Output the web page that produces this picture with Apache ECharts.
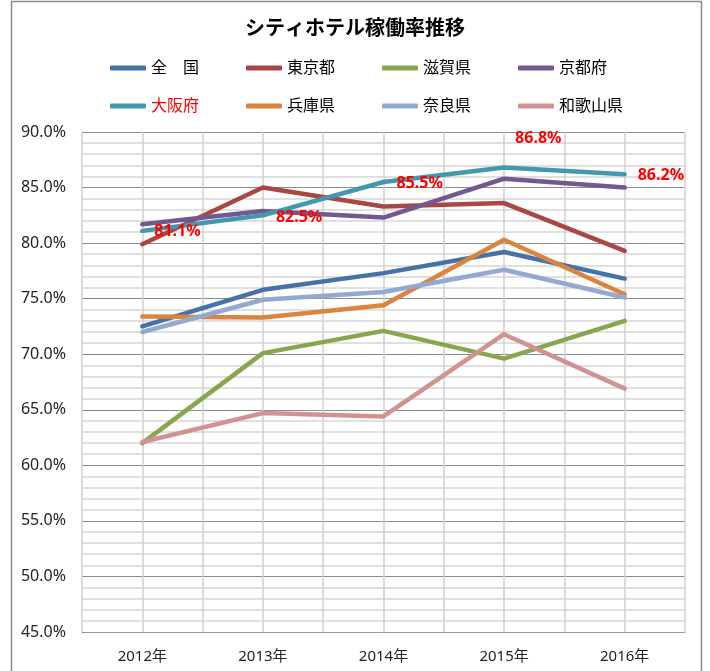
<!DOCTYPE html>
<html>
<head>
<meta charset="utf-8">
<script src="https://cdn.jsdelivr.net/npm/echarts@6/dist/echarts.min.js"></script>
<style>
  html, body { margin: 0; padding: 0; background: #fff; }
  #chart { width: 710px; height: 671px; }
</style>
</head>
<body>
<div id="chart"></div>
<script>
// 年度
const years = ["2012年", "2013年", "2014年", "2015年", "2016年"];

// 稼働率 (%)
const zenkoku = [72.5, 75.8, 77.3, 79.2, 76.8];
const tokyo = [79.9, 85.0, 83.3, 83.6, 79.3];
const shiga = [62.0, 70.1, 72.1, 69.6, 73.0];
const kyoto = [81.7, 82.9, 82.3, 85.8, 85.0];
const osaka = [81.1, 82.5, 85.5, 86.8, 86.2];
const hyogo = [73.4, 73.3, 74.4, 80.3, 75.4];
const nara = [72.0, 74.9, 75.6, 77.6, 75.1];
const wakayama = [62.1, 64.7, 64.4, 71.8, 66.9];

const seriesNames = ["全　国", "東京都", "滋賀県", "京都府", "大阪府", "兵庫県", "奈良県", "和歌山県"];
const seriesValues = [zenkoku, tokyo, shiga, kyoto, osaka, hyogo, nara, wakayama];
const colors = ["#4572A7", "#AA4643", "#89A54E", "#71588F", "#4198AF", "#DB843D", "#93A9CF", "#D19392"];

// 大阪府のラベル位置 (点からのずれ)
const osakaLabelOffsets = [[12, 1], [13, 2], [13, 1], [11, -29], [13, 1]];

const font = '"Noto Sans", "Noto Sans CJK JP", sans-serif';

const chart = echarts.init(document.getElementById("chart"));

const series = seriesNames.map((name, i) => {
  const isOsaka = name === "大阪府";
  return {
    name: name,
    type: "line",
    xAxisIndex: 0,
    yAxisIndex: 0,
    data: seriesValues[i].map((v, j) => {
      if (!isOsaka) return v;
      return {
        value: v,
        label: {
          show: true,
          position: "right",
          distance: 0,
          offset: osakaLabelOffsets[j],
          formatter: (p) => p.value.toFixed(1) + "%",
          color: "#FF0000",
          fontWeight: "bold",
          fontSize: 16,
          fontFamily: font,
        },
      };
    }),
    showSymbol: true,
    symbol: "circle",
    symbolSize: 0,
    lineStyle: { width: 4.5, color: colors[i], cap: "round", join: "round" },
    itemStyle: { color: colors[i] },
    z: isOsaka ? 3 : 2,
    animation: false,
  };
});

const legendItem = (name) => ({
  name: name,
  textStyle: name === "大阪府" ? { color: "#FF0000" } : undefined,
});

const legendBase = {
  left: 105,
  itemWidth: 36,
  itemHeight: 5,
  itemGap: 47,
  icon: "roundRect",
  textStyle: { fontSize: 16, color: "#000", fontFamily: font },
};

const option = {
  animation: false,
  title: {
    text: "シティホテル稼働率推移",
    left: "center",
    top: 14,
    textStyle: { fontSize: 20, fontWeight: "bold", color: "#000", fontFamily: font },
  },
  legend: [
    Object.assign({ data: seriesNames.slice(0, 4).map(legendItem), top: 55 }, legendBase),
    Object.assign({ data: seriesNames.slice(4).map(legendItem), top: 93 }, legendBase),
  ],
  grid: { left: 82, right: 25, top: 132, bottom: 39 },
  xAxis: [
    {
      type: "category",
      data: years,
      boundaryGap: true,
      axisLine: { lineStyle: { color: "#999" } },
      axisTick: { show: false },
      axisLabel: { fontSize: 15, color: "#222", margin: 17, fontFamily: font },
      splitLine: { show: false },
    },
    {
      type: "value",
      min: 0,
      max: 10,
      interval: 1,
      position: "top",
      axisLine: { show: false },
      axisTick: { show: false },
      axisLabel: { show: false },
      splitLine: { show: true, lineStyle: { color: "#cfcfcf", width: 1.5 } },
    },
  ],
  yAxis: {
    type: "value",
    min: 45,
    max: 90,
    interval: 5,
    axisLine: { show: false },
    axisTick: { show: false },
    axisLabel: {
      fontSize: 16,
      color: "#222",
      margin: 16,
      fontFamily: font,
      formatter: (v) => v.toFixed(1) + "%",
    },
    splitLine: { show: true, lineStyle: { color: "#8c8c8c", width: 1 } },
    minorTick: { show: false, splitNumber: 5 },
    minorSplitLine: { show: true, lineStyle: { color: "#d6d6d6", width: 1.5 } },
  },
  graphic: [
    {
      type: "rect",
      shape: { x: 11.5, y: 1.5, width: 690, height: 680 },
      style: { fill: "none", stroke: "#8a8a8a", lineWidth: 1.5 },
      silent: true,
      z: -1,
    },
  ],
  series: series,
};

chart.setOption(option);
</script>
</body>
</html>
